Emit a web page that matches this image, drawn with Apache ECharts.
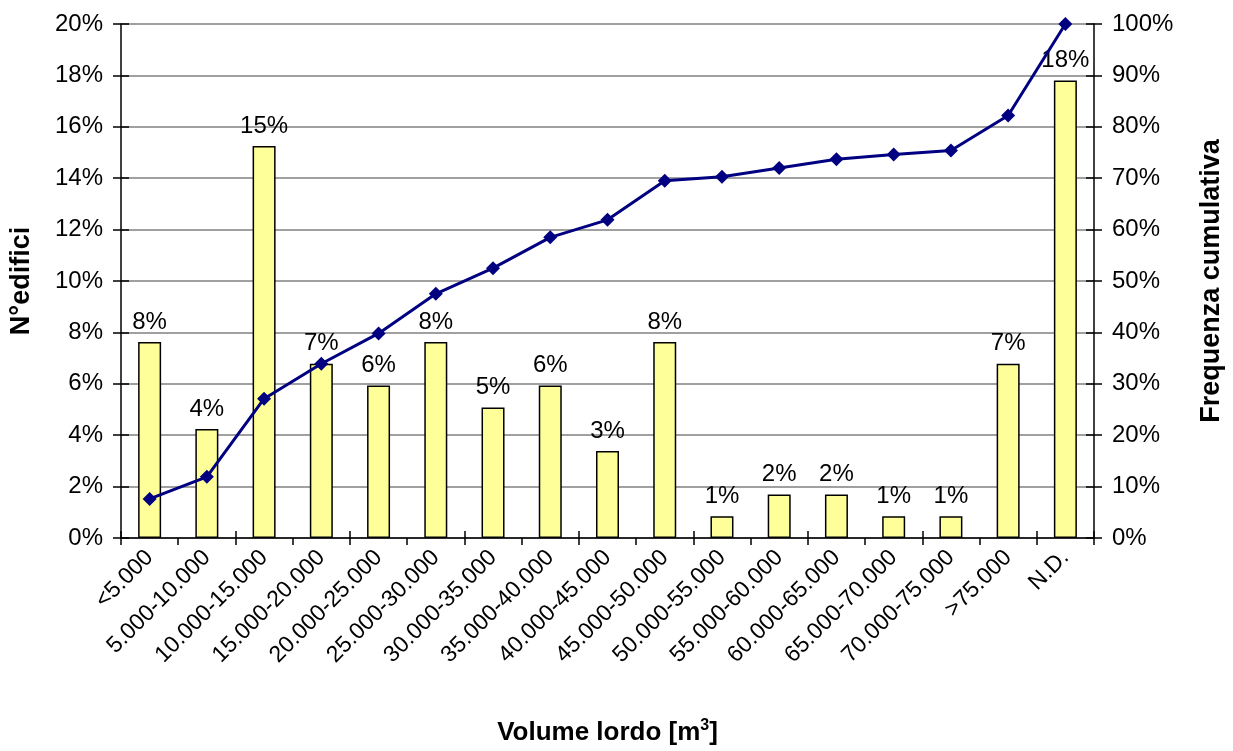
<!DOCTYPE html>
<html>
<head>
<meta charset="utf-8">
<script src="https://cdn.jsdelivr.net/npm/echarts@6/dist/echarts.min.js"></script>
<style>html,body{margin:0;padding:0;background:#fff;overflow:hidden}#c{width:1233px;height:751px}</style>
</head>
<body>
<div id="c"></div>
<script>
const categories = ['<5.000','5.000-10.000','10.000-15.000','15.000-20.000','20.000-25.000','25.000-30.000','30.000-35.000','35.000-40.000','40.000-45.000','45.000-50.000','50.000-55.000','55.000-60.000','60.000-65.000','65.000-70.000','70.000-75.000','>75.000','N.D.'];
const buildingsPct = [7.63,4.24,15.25,6.78,5.93,7.63,5.08,5.93,3.39,7.63,0.85,1.69,1.69,0.85,0.85,6.78,17.80];
const cumulativePct = [7.6,11.9,27.1,33.9,39.8,47.5,52.5,58.5,61.9,69.5,70.3,72.0,73.7,74.6,75.4,82.2,100];

const FONT = '"Liberation Sans", Arial, sans-serif';
const chart = echarts.init(document.getElementById('c'));
const axisLine = {show:true, lineStyle:{color:'#000', width:1.5}};
chart.setOption({
  animation:false,
  textStyle:{fontFamily:FONT},
  grid:{left:120, top:24, width:988, height:522, containLabel:false},
  xAxis:[{
    type:'category', data:categories, boundaryGap:true,
    axisLine:axisLine,
    axisTick:{show:true, alignWithLabel:false, length:7, lineStyle:{color:'#000', width:1.5}},
    axisLabel:{rotate:45, fontSize:23, color:'#000', fontFamily:FONT, margin:16, interval:0},
    name:'Volume lordo [m{s|3}]', nameLocation:'middle', nameGap:180,
    nameTextStyle:{fontSize:26, fontWeight:'bold', color:'#000', fontFamily:FONT,
      rich:{s:{fontSize:16, fontWeight:'bold', verticalAlign:'top', padding:[0,0,14,0], fontFamily:FONT}}}
  },{
    type:'category', data:categories, position:'bottom', boundaryGap:true,
    axisLine:{show:false},
    axisTick:{show:true, inside:true, length:7, lineStyle:{color:'#000', width:1.5}},
    axisLabel:{show:false}, splitLine:{show:false}
  }],
  yAxis:[{
    type:'value', min:0, max:20, interval:2, position:'left',
    axisLine:axisLine,
    axisTick:{show:true, length:8, lineStyle:{color:'#000', width:1.5}},
    axisLabel:{formatter:'{value}%', fontSize:24, color:'#000', fontFamily:FONT, margin:18},
    splitLine:{show:true, lineStyle:{color:'#808080', width:1.5}},
    name:'N°edifici', nameLocation:'middle', nameGap:86, nameRotate:90,
    nameTextStyle:{fontSize:27, fontWeight:'bold', color:'#000', fontFamily:FONT}
  },{
    type:'value', min:0, max:100, interval:10, position:'right',
    axisLine:axisLine,
    axisTick:{show:true, length:8, lineStyle:{color:'#000', width:1.5}},
    axisLabel:{formatter:'{value}%', fontSize:24, color:'#000', fontFamily:FONT, margin:18},
    splitLine:{show:false},
    name:'Frequenza cumulativa', nameLocation:'middle', nameGap:104, nameRotate:90,
    nameTextStyle:{fontSize:27, fontWeight:'bold', color:'#000', fontFamily:FONT}
  },{
    type:'value', min:0, max:20, interval:2, position:'left',
    axisLine:{show:false}, axisLabel:{show:false}, splitLine:{show:false},
    axisTick:{show:true, inside:true, length:8, lineStyle:{color:'#000', width:1.5}}
  },{
    type:'value', min:0, max:100, interval:10, position:'right',
    axisLine:{show:false}, axisLabel:{show:false}, splitLine:{show:false},
    axisTick:{show:true, inside:true, length:8, lineStyle:{color:'#000', width:1.5}}
  }],
  series:[{
    type:'bar', data:buildingsPct, xAxisIndex:0, yAxisIndex:0, barWidth:23,
    itemStyle:{color:'#FFFF99', borderColor:'#000', borderWidth:1.5},
    label:{show:true, position:'top', distance:8, fontSize:24, color:'#000', fontFamily:FONT,
      formatter:p=>Math.round(p.value)+'%'}
  },{
    type:'line', data:cumulativePct, xAxisIndex:0, yAxisIndex:1,
    symbol:'diamond', symbolSize:14,
    lineStyle:{color:'#000080', width:3},
    itemStyle:{color:'#000080'}
  }]
});
</script>
</body>
</html>
